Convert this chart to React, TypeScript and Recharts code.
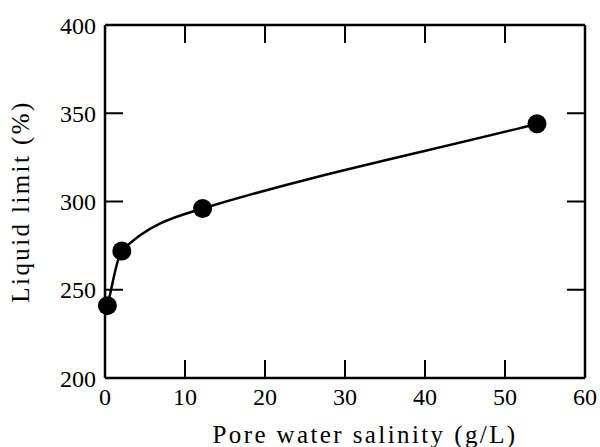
import { ComposedChart, Line, XAxis, YAxis } from "recharts";

const salinity = [0.3, 2.1, 12.2, 54];
const liquidLimit = [241, 272, 296, 344];
const xTicks = [0, 10, 20, 30, 40, 50, 60];
const yTicks = [200, 250, 300, 350, 400];

const data = salinity.map((x, i) => ({ x, y: liquidLimit[i] }));

const FONT = "'Liberation Serif', 'Times New Roman', serif";
const INK = "#000";

// smooth curve through the points: cubic Hermite with central-difference slopes
const smoothCurve = (context: any) => {
  let xs: number[] = [];
  let ys: number[] = [];
  return {
    areaStart() {},
    areaEnd() {},
    lineStart() {
      xs = [];
      ys = [];
    },
    point(x: number, y: number) {
      xs.push(+x);
      ys.push(+y);
    },
    lineEnd() {
      const n = xs.length;
      if (!n) return;
      context.moveTo(xs[0], ys[0]);
      if (n === 1) return;
      const m = xs.map((_, i) => {
        if (i === 0) return (ys[1] - ys[0]) / (xs[1] - xs[0]);
        if (i === n - 1) return (ys[n - 1] - ys[n - 2]) / (xs[n - 1] - xs[n - 2]);
        return (ys[i + 1] - ys[i - 1]) / (xs[i + 1] - xs[i - 1]);
      });
      for (let i = 0; i < n - 1; i++) {
        const h = (xs[i + 1] - xs[i]) / 3;
        context.bezierCurveTo(
          xs[i] + h,
          ys[i] + m[i] * h,
          xs[i + 1] - h,
          ys[i + 1] - m[i + 1] * h,
          xs[i + 1],
          ys[i + 1],
        );
      }
    },
  };
};

const XLabel = ({ viewBox }: any) => {
  const cx = viewBox.x + viewBox.width / 2 + 20;
  return (
    <text
      x={cx}
      y={443}
      textAnchor="middle"
      fontFamily={FONT}
      fontSize={25}
      letterSpacing={2.4}
      fill={INK}
    >
      Pore water salinity (g/L)
    </text>
  );
};

const YLabel = ({ viewBox }: any) => {
  const cx = 29;
  const cy = viewBox.y + viewBox.height / 2;
  return (
    <text
      x={cx}
      y={cy}
      transform={`rotate(-90 ${cx} ${cy})`}
      textAnchor="middle"
      fontFamily={FONT}
      fontSize={25}
      letterSpacing={2.4}
      fill={INK}
    >
      Liquid limit (%)
    </text>
  );
};

// tick marks only, no label
const NoLabel = () => <g />;

const tickStyle = { fill: INK, fontSize: 24, fontFamily: FONT };
const axisLine = { stroke: INK, strokeWidth: 2.5 };
const tickLine = { stroke: INK, strokeWidth: 2 };

export default function App() {
  return (
    <div style={{ position: "absolute", left: 0, top: 0, background: "#fff" }}>
      <ComposedChart
        width={600}
        height={447}
        data={data}
        margin={{ top: 25, right: 15, bottom: 0, left: 0 }}
      >
        {/* labelled axes */}
        <XAxis
          xAxisId={0}
          dataKey="x"
          type="number"
          domain={[0, 60]}
          ticks={xTicks}
          height={69}
          axisLine={axisLine}
          tickLine={false}
          tickSize={0}
          tickMargin={10}
          tick={tickStyle}
          interval={0}
          label={<XLabel />}
        />
        <YAxis
          yAxisId={0}
          type="number"
          domain={[200, 400]}
          ticks={yTicks}
          width={105}
          axisLine={axisLine}
          tickLine={false}
          tickSize={0}
          tickMargin={9}
          tick={tickStyle}
          interval={0}
          label={<YLabel />}
        />
        {/* inward tick marks on all four sides */}
        <XAxis
          xAxisId="bm"
          dataKey="x"
          type="number"
          mirror
          domain={[0, 60]}
          ticks={xTicks}
          height={1}
          axisLine={false}
          tickLine={tickLine}
          tickSize={18}
          tick={NoLabel}
          interval={0}
        />
        <XAxis
          xAxisId="top"
          dataKey="x"
          orientation="top"
          type="number"
          mirror
          domain={[0, 60]}
          ticks={xTicks}
          height={1}
          axisLine={axisLine}
          tickLine={tickLine}
          tickSize={18}
          tick={NoLabel}
          interval={0}
        />
        <YAxis
          yAxisId="lm"
          type="number"
          mirror
          domain={[200, 400]}
          ticks={yTicks}
          width={1}
          axisLine={false}
          tickLine={tickLine}
          tickSize={18}
          tick={NoLabel}
          interval={0}
        />
        <YAxis
          yAxisId="right"
          orientation="right"
          type="number"
          mirror
          domain={[200, 400]}
          ticks={yTicks}
          width={1}
          axisLine={axisLine}
          tickLine={tickLine}
          tickSize={18}
          tick={NoLabel}
          interval={0}
        />
        {/* hidden series so the frame axes are bound to data */}
        <Line
          xAxisId="bm"
          yAxisId="lm"
          dataKey="y"
          stroke="none"
          dot={false}
          activeDot={false}
          isAnimationActive={false}
        />
        <Line
          xAxisId="top"
          yAxisId="right"
          dataKey="y"
          stroke="none"
          dot={false}
          activeDot={false}
          isAnimationActive={false}
        />
        <Line
          xAxisId={0}
          yAxisId={0}
          type={smoothCurve as any}
          dataKey="y"
          stroke={INK}
          strokeWidth={2.5}
          dot={{ r: 9.5, fill: INK, stroke: "none" }}
          activeDot={false}
          isAnimationActive={false}
        />
      </ComposedChart>
    </div>
  );
}
